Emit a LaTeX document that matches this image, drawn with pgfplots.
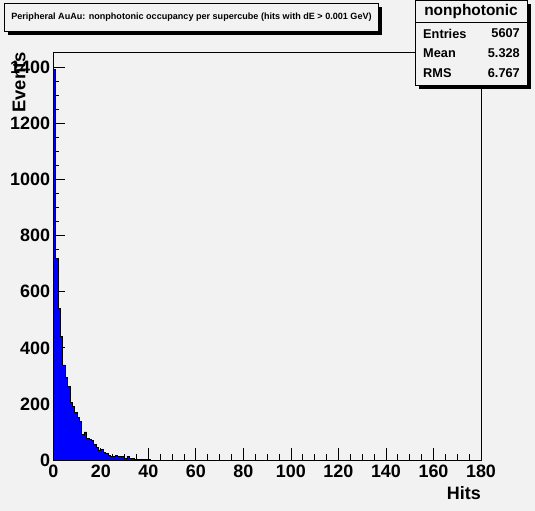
\documentclass[border=0pt]{standalone}
\usepackage{pgfplots}
\pgfplotsset{compat=1.18}
\usepackage{fontspec}
\setmainfont{Liberation Sans}
\definecolor{rootbg}{RGB}{242,242,242}
\definecolor{rootblue}{RGB}{0,0,255}
\begin{document}
\begin{tikzpicture}[x=1bp,y=1bp]
\path[use as bounding box, fill=rootbg] (0,0) rectangle (535,511);
\begin{axis}[
  at={(53.3bp,51bp)}, anchor=south west,
  scale only axis, width=427.7bp, height=408bp,
  xmin=0, xmax=180, ymin=0, ymax=1455,
  axis line style={line width=0.8bp},
  tick pos=left, tick align=inside,
  xtick={0,20,...,180}, ytick={0,200,...,1400},
  minor x tick num=3, minor y tick num=3,
  major tick length=12bp, minor tick length=6bp,
  every tick/.style={black, line width=0.8bp},
  scaled ticks=false,
  /pgf/number format/1000 sep={},
  /pgf/number format/assume math mode=true,
  ticklabel style={font=\fontsize{18}{18}\selectfont\bfseries},
  yticklabel style={inner sep=0pt, xshift=-3bp},
  xticklabel style={inner sep=0pt, yshift=-5bp},
  xlabel={\fontsize{18}{18}\selectfont\bfseries Hits},
  ylabel={\fontsize{18.5}{18}\selectfont\bfseries Events},
  xlabel style={at={(axis description cs:1,-0.098)}, anchor=base east, inner sep=0pt},
  ylabel style={at={(axis description cs:-0.0655,1)}, anchor=base east, inner sep=0pt},
]
\addplot[const plot, fill=rootblue, draw=black, line width=0.8bp] table {
x y
0 1393
1 720
2 540
3 440
4 339
5 295
6 262
7 205
8 190
9 169
10 152
11 137
12 92
13 100
14 77
15 74
16 71
17 54
18 45
19 36
20 39
21 28
22 22
23 16
24 14
25 12
26 16
27 12
28 12
29 12
30 4
31 14
32 7
33 4
34 3
35 3
36 3
37 3
38 2
39 1
40 1
41 1
} \closedcycle;
\end{axis}
% title box
\fill[black] (8,476) rectangle (382,504);
\filldraw[fill=rootbg, draw=black, line width=0.8bp] (4,508) rectangle (378,480);
\node[font=\fontsize{9.1}{9.5}\selectfont\bfseries, inner sep=0pt] at (191.5,494) {Peripheral AuAu: nonphotonic occupancy per supercube (hits with dE > 0.001 GeV)};
% stats box
\fill[black] (419,507) rectangle (531,422);
\filldraw[fill=rootbg, draw=black, line width=0.8bp] (415.5,510.5) rectangle (527,426);
\draw[line width=0.8bp] (415.5,489) -- (527,489);
\node[font=\fontsize{15.5}{16}\selectfont\bfseries, inner sep=0pt] at (471,499) {nonphotonic};
\begin{scope}[every node/.style={font=\fontsize{12.8}{13}\selectfont\bfseries, inner sep=0pt}]
\node[anchor=west] at (423,477.5) {Entries};
\node[anchor=east] at (520,477.5) {5607};
\node[anchor=west] at (423,457.5) {Mean};
\node[anchor=east] at (520,457.5) {5.328};
\node[anchor=west] at (423,437.5) {RMS};
\node[anchor=east] at (520,437.5) {6.767};
\end{scope}
\end{tikzpicture}
\end{document}
